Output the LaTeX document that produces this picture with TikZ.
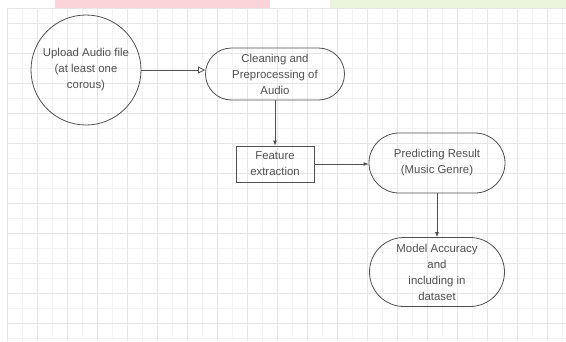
\documentclass[tikz,border=0pt]{standalone}
\usepackage{fontspec}
\setmainfont{Liberation Sans}
\usetikzlibrary{shapes.misc,arrows.meta}
\definecolor{gridmajor}{HTML}{E6E6E6}
\definecolor{gridminor}{HTML}{F3F3F3}
\definecolor{ink}{HTML}{505050}
\definecolor{bannerpink}{HTML}{FAD4D8}
\definecolor{bannergreen}{HTML}{EAF5DC}
\begin{document}
\begin{tikzpicture}
    [x=1pt,y=-1pt,
    every node/.style={font=\fontsize{11.4}{16}\selectfont, text=ink, align=center},
    terminal/.style={rounded rectangle, draw=ink, line width=0.8pt, inner sep=0pt},
    process/.style={rectangle, draw=ink, line width=0.8pt, inner sep=0pt,
      minimum width=78pt, minimum height=36pt},
    flow/.style={draw=ink, line width=0.8pt, -{Latex[length=5pt,width=4pt]}}]
    \useasboundingbox (0,0) rectangle (566,341);
    \fill[white] (0,0) rectangle (566,341);
    % banner strip
    \fill[bannerpink] (55,0) rectangle (270,8);
    \fill[bannergreen] (330,0) rectangle (566,8);
    % grid
    \foreach \x in {22,52,...,562} \draw[gridminor] (\x,8) -- (\x,341);
    \foreach \y in {38,68,...,338} \draw[gridminor] (7,\y) -- (566,\y);
    \foreach \x in {7,37,...,562} \draw[gridmajor] (\x,8) -- (\x,341);
    \foreach \y in {8,23,53,...,338} \draw[gridmajor] (7,\y) -- (566,\y);
    % nodes
    \node[circle, draw=ink, line width=0.8pt, minimum size=110pt, inner sep=0pt]
      (upload) at (86,70) {Upload Audio file\\(at least one\\corous)};
    \node[terminal, minimum width=139pt, minimum height=52pt]
      (clean) at (275,74) {Cleaning and\\Preprocessing of\\Audio};
    \node[process] (feature) at (275,164) {Feature\\extraction};
    \node[terminal, minimum width=136pt, minimum height=60pt]
      (predict) at (437,163) {Predicting Result\\(Music Genre)};
    \node[terminal, minimum width=135pt, minimum height=69pt]
      (model) at (437,272) {Model Accuracy\\and\\including in\\dataset};
    % connectors
    \draw[draw=ink, line width=0.8pt, -{Triangle[open,length=7pt,width=7pt]}]
      (upload.east) -- (upload.east -| clean.west);
    \draw[flow] (clean.south) -- (feature.north);
    \draw[flow] (feature.east) -- (feature.east -| predict.west);
    \draw[flow] (predict.south) -- (model.north);
\end{tikzpicture}
\end{document}
